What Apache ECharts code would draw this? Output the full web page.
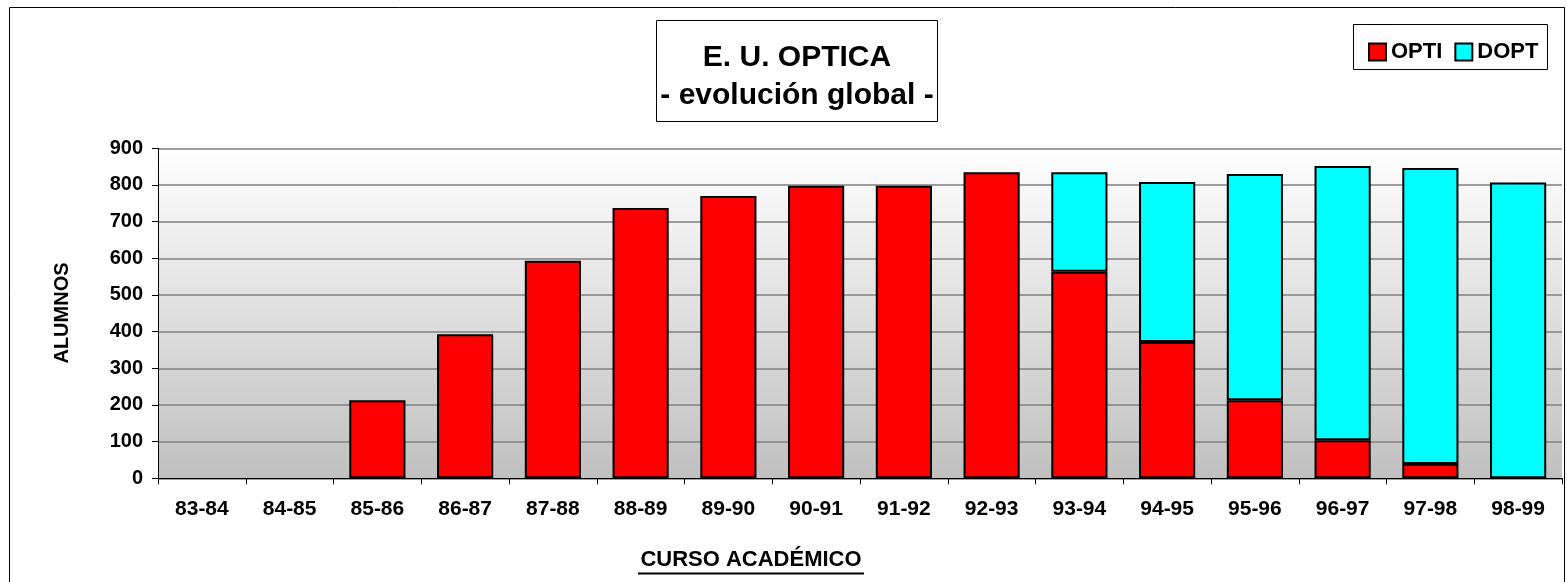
<!DOCTYPE html>
<html>
<head>
<meta charset="utf-8">
<script src="https://cdn.jsdelivr.net/npm/echarts@6/dist/echarts.min.js"></script>
<style>
html,body{margin:0;padding:0;background:#fff;}
#c{width:1567px;height:582px;}
</style>
</head>
<body>
<div id="c"></div>
<script>
const categories = ['83-84','84-85','85-86','86-87','87-88','88-89','89-90','90-91','91-92','92-93','93-94','94-95','95-96','96-97','97-98','98-99'];
const optiValues = [0,0,213,393,593,737,770,798,798,835,563,372,213,104,39,0];
const doptValues = [0,0,0,0,0,0,0,0,0,0,272,436,617,748,807,807];
const yTicks = [0,100,200,300,400,500,600,700,800,900];

const FONT = '"Liberation Sans", Arial, Helvetica, sans-serif';
const chart = echarts.init(document.getElementById('c'), null, {renderer:'canvas'});
// zero-height segments are not drawn (no border line), as in the original
const noZero = arr => arr.map(v => v === 0 ? '-' : v);

const option = {
  animation: false,
  backgroundColor: '#ffffff',
  textStyle: {fontFamily: FONT},
  grid: {
    left: 158, right: 5, top: 148.3, bottom: 103.7,
    show: true,
    borderWidth: 0,
    backgroundColor: new echarts.graphic.LinearGradient(0,0,0,1,[
      {offset:0, color:'#ffffff'},
      {offset:1, color:'#c0c0c0'}
    ])
  },
  legend: {
    left: 1363, top: 36,
    itemWidth: 17, itemHeight: 17, itemGap: 12,
    icon: 'rect',
    textStyle: {fontFamily: FONT, fontWeight: 'bold', fontSize: 22, color: '#000'},
    data: ['OPTI','DOPT']
  },
  xAxis: {
    type: 'category',
    data: categories,
    axisLine: {lineStyle: {color: '#000', width: 1}},
    axisTick: {show: true, length: 6, lineStyle: {color: '#000'}, alignWithLabel: false},
    axisLabel: {color: '#000', fontFamily: FONT, fontWeight: 'bold', fontSize: 21, margin: 20, interval: 0},
    splitLine: {show: false}
  },
  yAxis: {
    type: 'value',
    min: 0, max: 900, interval: 100,
    axisLine: {show: true, lineStyle: {color: '#000', width: 1}},
    axisTick: {show: true, length: 6, lineStyle: {color: '#000'}},
    axisLabel: {color: '#000', fontFamily: FONT, fontWeight: 'bold', fontSize: 20, margin: 15,
      formatter: v => yTicks.indexOf(v) >= 0 ? String(v) : ''},
    splitLine: {show: true, lineStyle: {color: '#808080', width: 1.5}}
  },
  series: [
    {
      name: 'OPTI', type: 'bar', stack: 'total', data: noZero(optiValues),
      barWidth: '64%',
      itemStyle: {color: '#ff0000', borderColor: '#000', borderWidth: 2}
    },
    {
      name: 'DOPT', type: 'bar', stack: 'total', data: noZero(doptValues),
      barWidth: '64%',
      itemStyle: {color: '#00ffff', borderColor: '#000', borderWidth: 2}
    }
  ],
  graphic: [
    {type:'rect', z: -10, silent: true, shape:{x:9.5, y:7.5, width:1555, height:590}, style:{fill:'none', stroke:'#000', lineWidth:1}},
    {type:'rect', z: 10, shape:{x:656.5, y:20.5, width:281, height:101}, style:{fill:'#fff', stroke:'#000', lineWidth:1}},
    {type:'text', z: 11, x: 797, y: 58, style:{text:'E. U. OPTICA', font:'bold 30px ' + FONT, fill:'#000', align:'center', verticalAlign:'middle'}},
    {type:'text', z: 11, x: 797, y: 96, style:{text:'- evolución global -', font:'bold 30px ' + FONT, fill:'#000', align:'center', verticalAlign:'middle'}},
    {type:'rect', z: 1, shape:{x:1353.5, y:24.5, width:194, height:45}, style:{fill:'#fff', stroke:'#000', lineWidth:1}},
    {type:'text', z: 11, x: 62, y: 313, rotation: Math.PI/2, style:{text:'ALUMNOS', font:'bold 20px ' + FONT, fill:'#000', align:'center', verticalAlign:'middle'}},
    {type:'text', z: 11, x: 751, y: 560, style:{text:'CURSO ACADÉMICO', font:'bold 22px ' + FONT, fill:'#000', align:'center', verticalAlign:'middle'}},
    {type:'line', z: 11, shape:{x1:638, y1:573.5, x2:864, y2:573.5}, style:{stroke:'#000', lineWidth:2}}
  ]
};
chart.setOption(option);
</script>
</body>
</html>
